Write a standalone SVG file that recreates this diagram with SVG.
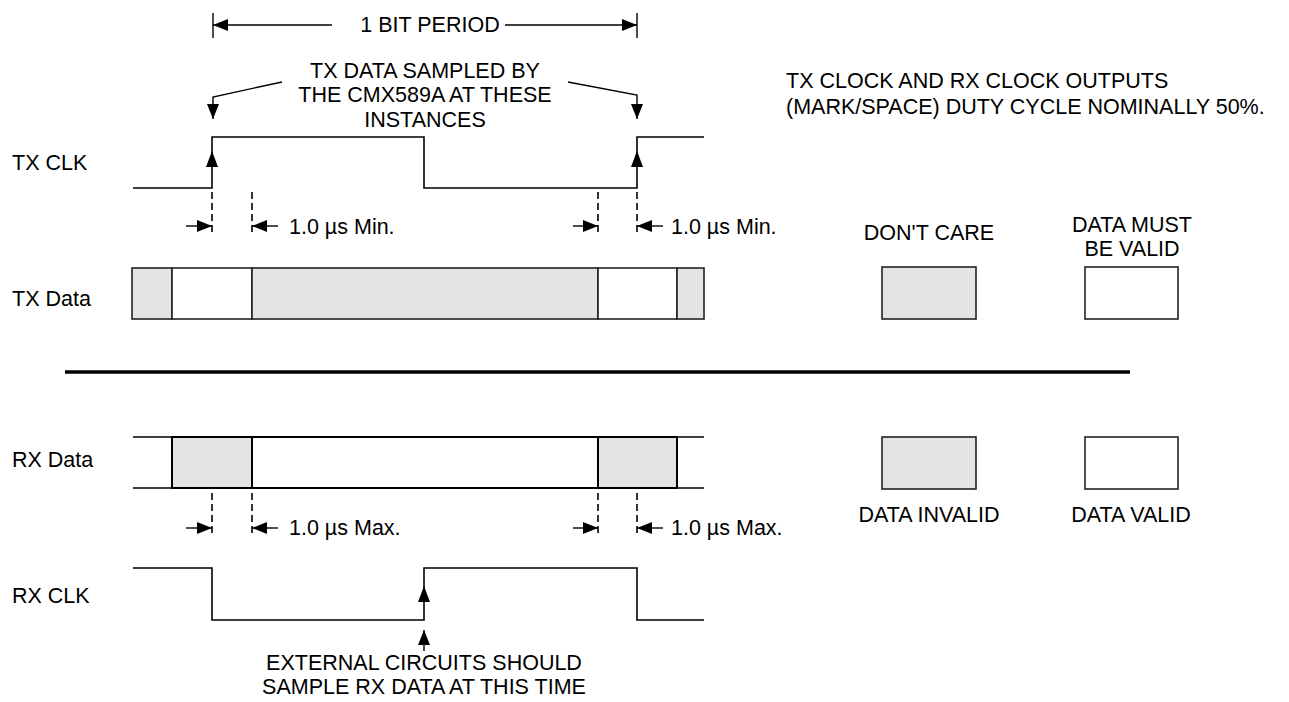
<svg xmlns="http://www.w3.org/2000/svg" width="1289" height="702" viewBox="0 0 1289 702">
<style>
text{font-family:"Liberation Sans",Arial,sans-serif;font-size:21.5px;fill:#000}
.w{fill:none;stroke:#000;stroke-width:1.6}
.d{fill:none;stroke:#000;stroke-width:1.6;stroke-dasharray:7 4}
.c{fill:none;stroke:#000;stroke-width:1.4}
.g{fill:#e4e4e4;stroke:#222;stroke-width:1.6}
.e{fill:#fff;stroke:#222;stroke-width:1.6}
.h{fill:#000;stroke:none}
</style>
<defs>
<marker id="ah" viewBox="0 0 15 12" refX="15" refY="6" markerWidth="15" markerHeight="12" markerUnits="userSpaceOnUse" orient="auto-start-reverse"><path d="M0,0 L15,6 L0,12 z" fill="#000"/></marker>
</defs>
<rect width="1289" height="702" fill="#fff"/>

<g id="labels">
<text x="12" y="170">TX CLK</text>
<text x="12" y="306">TX Data</text>
<text x="12" y="467">RX Data</text>
<text x="12" y="603">RX CLK</text>
</g>

<g id="bit-period">
<line class="c" x1="213" y1="13" x2="213" y2="38"/>
<line class="c" x1="637" y1="13" x2="637" y2="38"/>
<text x="430" y="32" text-anchor="middle">1 BIT PERIOD</text>
</g>

<g id="tx-note">
<text x="425" y="78" text-anchor="middle">TX DATA SAMPLED BY</text>
<text x="425" y="102" text-anchor="middle">THE CMX589A AT THESE</text>
<text x="425" y="127" text-anchor="middle">INSTANCES</text>
</g>

<g id="tx-clk">
<polyline class="w" points="133,188 212,188 212,137 424,137 424,188 637,188 637,137 704,137"/>
<polygon class="h" points="212,151 206,167 218,167"/>
<polygon class="h" points="637,151 631,167 643,167"/>
</g>

<g id="tx-data">
<rect class="g" x="132" y="268" width="40" height="51"/>
<rect class="e" x="172" y="268" width="80" height="51"/>
<rect class="g" x="252" y="268" width="346" height="51"/>
<rect class="e" x="598" y="268" width="79" height="51"/>
<rect class="g" x="677" y="268" width="27" height="51"/>
</g>

<g id="tx-timing">
<line class="d" x1="212" y1="192" x2="212" y2="232"/>
<line class="d" x1="252" y1="192" x2="252" y2="232"/>
<line class="d" x1="598" y1="192" x2="598" y2="232"/>
<line class="d" x1="637" y1="192" x2="637" y2="232"/>
<text x="289" y="234">1.0 µs Min.</text>
<text x="671" y="234">1.0 µs Min.</text>
</g>

<g id="separator">
<line x1="65" y1="372" x2="1130" y2="372" stroke="#000" stroke-width="3.5"/>
</g>

<g id="rx-data">
<line class="w" x1="133" y1="437" x2="704" y2="437"/>
<line class="w" x1="133" y1="488" x2="704" y2="488"/>
<rect class="g" x="172" y="437" width="80" height="51" style="stroke:#000;stroke-width:2"/>
<rect class="e" x="252" y="437" width="346" height="51" style="stroke:#000;stroke-width:2"/>
<rect class="g" x="598" y="437" width="79" height="51" style="stroke:#000;stroke-width:2"/>
</g>

<g id="rx-timing">
<line class="d" x1="212" y1="493" x2="212" y2="533"/>
<line class="d" x1="252" y1="493" x2="252" y2="533"/>
<line class="d" x1="598" y1="493" x2="598" y2="533"/>
<line class="d" x1="637" y1="493" x2="637" y2="533"/>
<text x="289" y="535">1.0 µs Max.</text>
<text x="671" y="535">1.0 µs Max.</text>
</g>

<g id="rx-clk">
<polyline class="w" points="133,568 212,568 212,620 424,620 424,568 637,568 637,620 704,620"/>
<polygon class="h" points="424,586 418,602 430,602"/>
</g>

<g id="rx-note">
<text x="424" y="670" text-anchor="middle">EXTERNAL CIRCUITS SHOULD</text>
<text x="424" y="694" text-anchor="middle">SAMPLE RX DATA AT THIS TIME</text>
</g>

<g id="duty-note">
<text x="786" y="88">TX CLOCK AND RX CLOCK OUTPUTS</text>
<text x="786" y="114">(MARK/SPACE) DUTY CYCLE NOMINALLY 50%.</text>
</g>

<g id="legend-dont-care">
<text x="929" y="240" text-anchor="middle">DON'T CARE</text>
<rect class="g" x="882" y="267" width="94" height="52"/>
</g>
<g id="legend-must-be-valid">
<text x="1132" y="232" text-anchor="middle">DATA MUST</text>
<text x="1132" y="256" text-anchor="middle">BE VALID</text>
<rect class="e" x="1085" y="267" width="93" height="52"/>
</g>
<g id="legend-invalid">
<rect class="g" x="882" y="437" width="94" height="52"/>
<text x="929" y="522" text-anchor="middle">DATA INVALID</text>
</g>
<g id="legend-valid">
<rect class="e" x="1085" y="437" width="93" height="52"/>
<text x="1131" y="522" text-anchor="middle">DATA VALID</text>
</g>

<g id="connectors">
<line class="c" x1="332" y1="25" x2="213" y2="25" marker-end="url(#ah)"/>
<line class="c" x1="505" y1="25" x2="637" y2="25" marker-end="url(#ah)"/>
<polyline class="c" points="282,82 213,97 213,119" marker-end="url(#ah)"/>
<polyline class="c" points="568,82 637,95 637,119" marker-end="url(#ah)"/>
<line class="c" x1="186" y1="226" x2="212" y2="226" marker-end="url(#ah)"/>
<line class="c" x1="278" y1="226" x2="252" y2="226" marker-end="url(#ah)"/>
<line class="c" x1="573" y1="226" x2="598" y2="226" marker-end="url(#ah)"/>
<line class="c" x1="663" y1="226" x2="637" y2="226" marker-end="url(#ah)"/>
<line class="c" x1="186" y1="528" x2="212" y2="528" marker-end="url(#ah)"/>
<line class="c" x1="278" y1="528" x2="252" y2="528" marker-end="url(#ah)"/>
<line class="c" x1="573" y1="528" x2="598" y2="528" marker-end="url(#ah)"/>
<line class="c" x1="663" y1="528" x2="637" y2="528" marker-end="url(#ah)"/>
<line class="c" x1="424" y1="651" x2="424" y2="630" marker-end="url(#ah)"/>
</g>
</svg>
